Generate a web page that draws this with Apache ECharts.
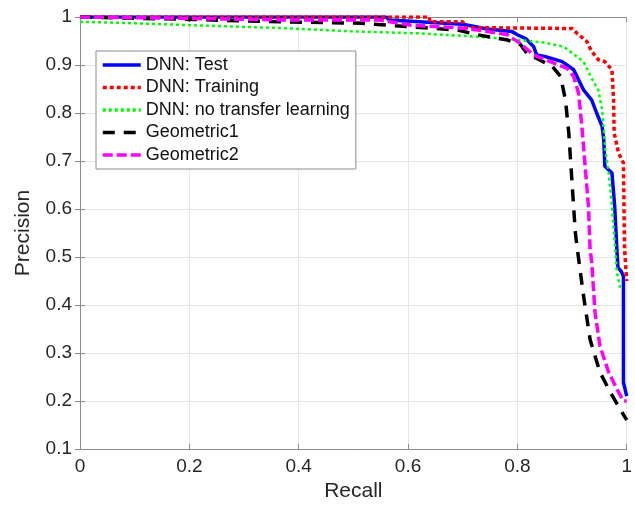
<!DOCTYPE html>
<html>
<head>
<meta charset="utf-8">
<script src="https://cdn.jsdelivr.net/npm/echarts@6/dist/echarts.min.js"></script>
<style>
html,body{margin:0;padding:0;background:#fff;}
#c{width:635px;height:507px;}
</style>
</head>
<body>
<div id="c"></div>
<script>
const seriesNames = ['DNN: Test','DNN: Training','DNN: no transfer learning','Geometric1','Geometric2'];
const xTicks = [0,0.2,0.4,0.6,0.8,1];
const yTicks = [0.1,0.2,0.3,0.4,0.5,0.6,0.7,0.8,0.9,1];

const dnnTest = [[0,1],[0.56,1],[0.565,0.994],[0.70,0.985],[0.745,0.975],[0.79,0.97],[0.80,0.963],[0.815,0.955],[0.83,0.938],[0.835,0.921],[0.85,0.918],[0.882,0.907],[0.903,0.89],[0.912,0.869],[0.921,0.848],[0.936,0.827],[0.945,0.8],[0.955,0.772],[0.958,0.744],[0.96,0.689],[0.973,0.675],[0.978,0.606],[0.982,0.516],[0.984,0.478],[0.99,0.47],[0.994,0.46],[0.994,0.239],[1.0,0.21]];
const dnnTraining = [[0,1],[0.639,1],[0.64,0.99],[0.70,0.99],[0.705,0.978],[0.9,0.976],[0.909,0.966],[0.927,0.949],[0.935,0.93],[0.948,0.911],[0.96,0.907],[0.973,0.89],[0.976,0.827],[0.977,0.759],[0.985,0.717],[0.994,0.696],[0.996,0.516],[0.997,0.5],[1.0,0.45]];
const dnnNoTransfer = [[0,0.99],[0.1,0.987],[0.2,0.983],[0.367,0.977],[0.5,0.97],[0.618,0.966],[0.727,0.959],[0.76,0.956],[0.803,0.952],[0.848,0.947],[0.885,0.938],[0.9,0.925],[0.921,0.907],[0.936,0.872],[0.948,0.848],[0.955,0.807],[0.961,0.723],[0.967,0.675],[0.973,0.606],[0.979,0.516],[0.982,0.468],[0.988,0.436]];
const geometric1 = [[0,1],[0.2,0.995],[0.367,0.99],[0.515,0.987],[0.636,0.977],[0.69,0.973],[0.727,0.963],[0.782,0.952],[0.806,0.942],[0.82,0.92],[0.833,0.915],[0.864,0.897],[0.879,0.876],[0.888,0.827],[0.894,0.759],[0.9,0.655],[0.906,0.551],[0.909,0.522],[0.921,0.419],[0.933,0.328],[0.951,0.26],[0.97,0.218],[0.988,0.183],[1.0,0.16]];
const geometric2 = [[0,1],[0.2,0.997],[0.367,0.994],[0.545,0.994],[0.606,0.983],[0.697,0.977],[0.745,0.97],[0.782,0.963],[0.805,0.945],[0.83,0.921],[0.867,0.904],[0.891,0.893],[0.903,0.876],[0.912,0.841],[0.918,0.772],[0.924,0.689],[0.93,0.606],[0.933,0.516],[0.936,0.489],[0.942,0.385],[0.951,0.315],[0.967,0.26],[0.982,0.225],[0.994,0.2],[1.0,0.2]];

const FONT = '"Liberation Sans", Arial, Helvetica, sans-serif';
const axisGray = '#8c8c8c';
const gridGray = '#e6e6e6';

function mkSeries(name, data, color, type, width, cap) {
  return {
    name: name, type: 'line', data: data, symbol: 'none', showSymbol: false,
    xAxisIndex: 0, yAxisIndex: 0, animation: false,
    lineStyle: {color: color, type: type, width: width, cap: cap || 'butt'},
    itemStyle: {color: color}
  };
}

const chart = echarts.init(document.getElementById('c'), null, {renderer: 'canvas'});
chart.setOption({
  backgroundColor: '#fff',
  animation: false,
  grid: {left: 80, right: 5, top: 17, bottom: 57, show: false},
  legend: {
    orient: 'vertical', left: 96, top: 51,
    itemWidth: 38, itemHeight: 14, itemGap: 4.5,
    padding: [5, 6, 5, 5],
    borderColor: '#8c8c8c', borderWidth: 1, backgroundColor: '#fff',
    itemStyle: {opacity: 0},
    lineStyle: {width: 3.5},
    textStyle: {fontFamily: FONT, fontSize: 18, color: '#111'},
    data: seriesNames
  },
  xAxis: [{
    type: 'value', min: 0, max: 1, interval: 0.2,
    name: 'Recall', nameLocation: 'middle', nameGap: 32,
    nameTextStyle: {fontFamily: FONT, fontSize: 21, color: '#262626'},
    axisLine: {show: true, lineStyle: {color: axisGray, width: 1}},
    axisTick: {show: true, inside: true, length: 5, lineStyle: {color: axisGray}},
    axisLabel: {fontFamily: FONT, fontSize: 19, color: '#262626', margin: 8,
      formatter: v => String(parseFloat(v.toFixed(2)))},
    splitLine: {show: true, lineStyle: {color: gridGray, width: 1}}
  }, {
    type: 'value', position: 'top', min: 0, max: 1, interval: 0.2,
    axisLine: {show: true, lineStyle: {color: axisGray, width: 1}},
    axisTick: {show: true, inside: true, length: 5, lineStyle: {color: axisGray}},
    axisLabel: {show: false}, splitLine: {show: false}
  }],
  yAxis: [{
    type: 'value', min: 0.1, max: 1, interval: 0.1,
    name: 'Precision', nameLocation: 'middle', nameGap: 46,
    nameTextStyle: {fontFamily: FONT, fontSize: 21, color: '#262626'},
    axisLine: {show: true, lineStyle: {color: axisGray, width: 1}},
    axisTick: {show: true, inside: true, length: 5, lineStyle: {color: axisGray}},
    axisLabel: {fontFamily: FONT, fontSize: 19, color: '#262626', margin: 8,
      formatter: v => String(parseFloat(v.toFixed(2)))},
    splitLine: {show: true, lineStyle: {color: gridGray, width: 1}}
  }, {
    type: 'value', position: 'right', min: 0.1, max: 1, interval: 0.1,
    axisLine: {show: true, lineStyle: {color: axisGray, width: 1}},
    axisTick: {show: true, inside: true, length: 5, lineStyle: {color: axisGray}},
    axisLabel: {show: false}, splitLine: {show: false}
  }],
  series: [
    mkSeries(seriesNames[0], dnnTest, '#0000ff', 'solid', 3.5),
    mkSeries(seriesNames[1], dnnTraining, '#ff0000', [4, 3], 3.5),
    mkSeries(seriesNames[2], dnnNoTransfer, '#00ff00', [3, 3], 2.5),
    mkSeries(seriesNames[3], geometric1, '#000000', [12, 9], 3.5),
    mkSeries(seriesNames[4], geometric2, '#ff00ff', [10, 4], 3.5)
  ]
});
</script>
</body>
</html>
